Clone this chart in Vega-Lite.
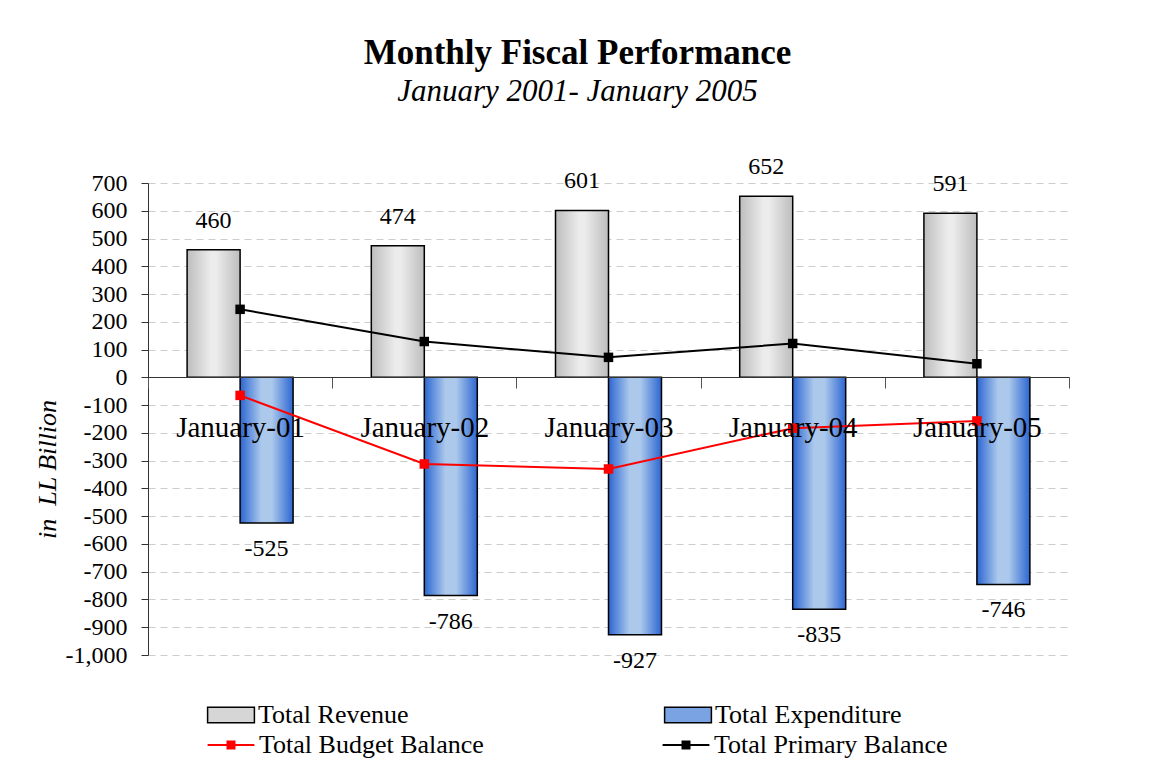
{
  "$schema": "https://vega.github.io/schema/vega-lite/v6.json",
  "width": 921,
  "height": 472,
  "autosize": {"type": "none"},
  "padding": {"left": 148, "top": 183, "right": 83, "bottom": 110},
  "background": "white",
  "title": {
    "text": "Monthly Fiscal Performance",
    "subtitle": "January 2001- January 2005",
    "font": "Liberation Serif",
    "fontSize": 35,
    "fontWeight": "bold",
    "color": "black",
    "subtitleFont": "Liberation Serif",
    "subtitleFontSize": 31,
    "subtitleFontStyle": "italic",
    "subtitleColor": "black",
    "subtitlePadding": 6,
    "anchor": "middle",
    "dx": -31,
    "offset": 48
  },
  "datasets": {
    "fiscal": [
      {"month": "January-01", "series": "Total Revenue", "value": 460},
      {"month": "January-02", "series": "Total Revenue", "value": 474},
      {"month": "January-03", "series": "Total Revenue", "value": 601},
      {"month": "January-04", "series": "Total Revenue", "value": 652},
      {"month": "January-05", "series": "Total Revenue", "value": 591},
      {"month": "January-01", "series": "Total Expenditure", "value": -525},
      {"month": "January-02", "series": "Total Expenditure", "value": -786},
      {"month": "January-03", "series": "Total Expenditure", "value": -927},
      {"month": "January-04", "series": "Total Expenditure", "value": -835},
      {"month": "January-05", "series": "Total Expenditure", "value": -746},
      {"month": "January-01", "series": "Total Budget Balance", "value": -65},
      {"month": "January-02", "series": "Total Budget Balance", "value": -312},
      {"month": "January-03", "series": "Total Budget Balance", "value": -330},
      {"month": "January-04", "series": "Total Budget Balance", "value": -183},
      {"month": "January-05", "series": "Total Budget Balance", "value": -157},
      {"month": "January-01", "series": "Total Primary Balance", "value": 245},
      {"month": "January-02", "series": "Total Primary Balance", "value": 129},
      {"month": "January-03", "series": "Total Primary Balance", "value": 72},
      {"month": "January-04", "series": "Total Primary Balance", "value": 122},
      {"month": "January-05", "series": "Total Primary Balance", "value": 49}
    ]
  },
  "data": {"name": "fiscal"},
  "encoding": {
    "x": {
      "field": "month",
      "type": "nominal",
      "sort": null,
      "scale": {"paddingInner": 0, "paddingOuter": 0},
      "axis": {
        "title": null,
        "orient": "bottom",
        "offset": -278,
        "zindex": 1,
        "labelAngle": 0,
        "labelFontSize": 29,
        "labelFont": "Liberation Serif",
        "labelColor": "black",
        "labelPadding": 25,
        "tickBand": "extent",
        "tickSize": 11,
        "tickColor": "#555555",
        "domainColor": "#333333",
        "grid": false
      }
    },
    "y": {
      "field": "value",
      "type": "quantitative",
      "scale": {"domain": [-1000, 700], "nice": false},
      "axis": {
        "title": "in\u00a0 LL Billion",
        "titleFont": "Liberation Serif",
        "titleFontSize": 26,
        "titleFontStyle": "italic",
        "titleFontWeight": "normal",
        "titleColor": "black",
        "titleX": -88,
        "titleY": 286,
        "values": [-1000, -900, -800, -700, -600, -500, -400, -300, -200, -100, 0, 100, 200, 300, 400, 500, 600, 700],
        "labelExpr": "replace(format(datum.value, ',d'), '\u2212', '-')",
        "labelFont": "Liberation Serif",
        "labelFontSize": 24,
        "labelColor": "black",
        "labelPadding": 14,
        "tickSize": 7,
        "tickColor": "#333333",
        "domainColor": "#333333",
        "grid": true,
        "gridColor": "#cccccc",
        "gridDash": [7, 5]
      }
    }
  },
  "layer": [
    {
      "transform": [{"filter": "datum.series === 'Total Revenue' || datum.series === 'Total Expenditure'"}],
      "mark": {"type": "bar", "stroke": "black", "strokeWidth": 1.5},
      "encoding": {
        "xOffset": {"field": "series", "type": "nominal", "scale": {"domain": ["Total Revenue", "Total Expenditure"], "paddingInner": 0, "paddingOuter": 0.738}},
        "fill": {
          "condition": {
            "test": "datum.series === 'Total Revenue'",
            "value": {"gradient": "linear", "x1": 0, "y1": 0, "x2": 1, "y2": 0, "stops": [{"offset": 0, "color": "#bdbdbd"}, {"offset": 0.45, "color": "#ececec"}, {"offset": 0.55, "color": "#ececec"}, {"offset": 1, "color": "#bdbdbd"}]}
          },
          "value": {"gradient": "linear", "x1": 0, "y1": 0, "x2": 1, "y2": 0, "stops": [{"offset": 0, "color": "#2c66d2"}, {"offset": 0.4, "color": "#acc9ec"}, {"offset": 0.6, "color": "#acc9ec"}, {"offset": 1, "color": "#2c66d2"}]}
        }
      }
    },
    {
      "transform": [{"filter": "datum.series === 'Total Revenue'"}],
      "mark": {"type": "text", "font": "Liberation Serif", "fontSize": 24, "baseline": "alphabetic", "dy": -22, "color": "black"},
      "encoding": {
        "xOffset": {"field": "series", "type": "nominal", "scale": {"domain": ["Total Revenue", "Total Expenditure"], "paddingInner": 0, "paddingOuter": 0.738}},
        "text": {"field": "value", "type": "nominal"}
      }
    },
    {
      "transform": [{"filter": "datum.series === 'Total Expenditure'"}],
      "mark": {"type": "text", "font": "Liberation Serif", "fontSize": 24, "baseline": "alphabetic", "dy": 33, "color": "black"},
      "encoding": {
        "xOffset": {"field": "series", "type": "nominal", "scale": {"domain": ["Total Revenue", "Total Expenditure"], "paddingInner": 0, "paddingOuter": 0.738}},
        "text": {"field": "value", "type": "nominal"}
      }
    },
    {
      "transform": [{"filter": "datum.series === 'Total Budget Balance' || datum.series === 'Total Primary Balance'"}],
      "mark": {"type": "line", "strokeWidth": 2, "point": {"shape": "square", "size": 90, "filled": true, "opacity": 1}},
      "encoding": {
        "color": {
          "field": "series",
          "type": "nominal",
          "scale": {
            "domain": ["Total Budget Balance", "Total Primary Balance"],
            "range": ["#ff0000", "#000000"]
          }
        }
      }
    },
    {
      "transform": [{"filter": "datum.series === 'Total Budget Balance' || datum.series === 'Total Primary Balance'"}],
      "mark": {"type": "point", "filled": true, "opacity": 0},
      "encoding": {
        "color": {
          "field": "series",
          "type": "nominal",
          "legend": {
            "title": null,
            "orient": "none",
            "direction": "horizontal",
            "legendX": 70,
            "legendY": 549,
            "columnPadding": 178,
            "labelFont": "Liberation Serif",
            "labelFontSize": 26,
            "labelColor": "black",
            "labelOffset": 15,
            "labelLimit": 400,
            "symbolType": "M-2.6,-0.12H-0.5V-0.5H0.5V-0.12H2.6V0.12H0.5V0.5H-0.5V0.12H-2.6Z",
            "symbolSize": 324,
            "symbolOpacity": 1,
            "symbolStrokeWidth": 0
          }
        }
      }
    },
    {
      "transform": [{"filter": "datum.series === 'Total Revenue' || datum.series === 'Total Expenditure'"}],
      "mark": {"type": "point", "filled": true, "opacity": 0},
      "encoding": {
        "fill": {
          "field": "series",
          "type": "nominal",
          "scale": {
            "domain": ["Total Revenue", "Total Expenditure"],
            "range": ["#d6d6d6", "#7aa3e3"]
          },
          "legend": {
            "title": null,
            "orient": "none",
            "direction": "horizontal",
            "legendX": 70,
            "legendY": 519,
            "columnPadding": 252,
            "labelFont": "Liberation Serif",
            "labelFontSize": 26,
            "labelColor": "black",
            "labelOffset": 14,
            "labelLimit": 400,
            "symbolType": "M-2.6,-0.85H2.6V0.85H-2.6Z",
            "symbolSize": 324,
            "symbolOpacity": 1,
            "symbolStrokeColor": "black",
            "symbolStrokeWidth": 1.5
          }
        }
      }
    }
  ],
  "config": {
    "font": "Liberation Serif",
    "view": {"stroke": null}
  }
}
